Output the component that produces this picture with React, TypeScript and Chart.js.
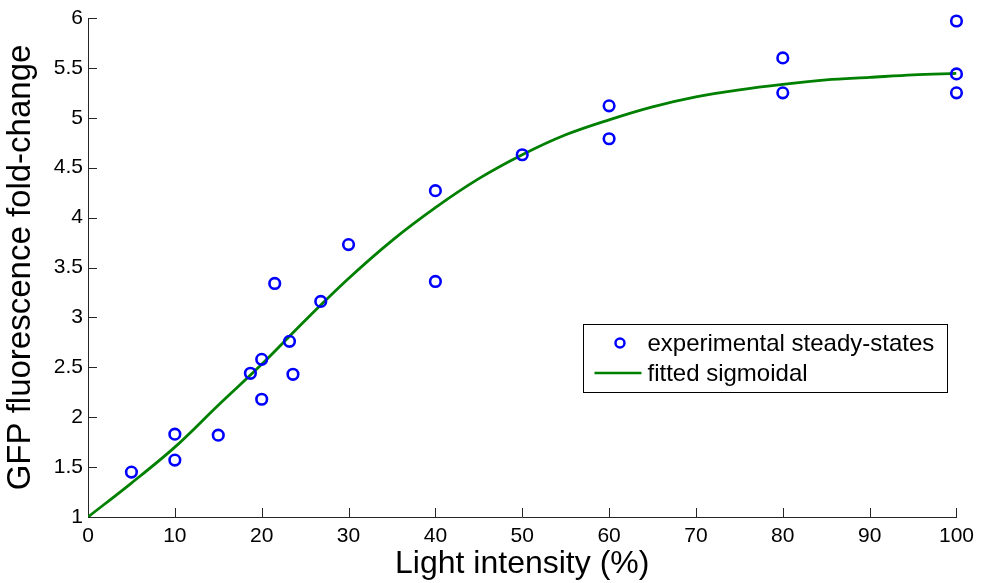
import React, { useEffect, useRef } from "react";
import { Chart, registerables } from "chart.js";

Chart.register(...registerables);

// Experimental steady-states
const expX = [5, 10, 10, 15, 18.7, 20, 20, 21.5, 23.2, 23.6, 26.8, 30, 40, 40, 50, 60, 60, 80, 80, 100, 100, 100];
const expY = [1.45, 1.83, 1.57, 1.82, 2.44, 2.58, 2.18, 3.34, 2.76, 2.43, 3.16, 3.73, 4.27, 3.36, 4.63, 5.12, 4.79, 5.6, 5.25, 5.97, 5.44, 5.25];

// Fitted sigmoidal curve
const fitX = [0, 5, 10, 15, 20, 25, 30, 35, 40, 45, 50, 55, 60, 65, 70, 75, 80, 85, 90, 95, 100];
const fitY = [1.0, 1.34, 1.7, 2.12, 2.53, 2.97, 3.39, 3.77, 4.1, 4.39, 4.63, 4.83, 4.98, 5.11, 5.21, 5.28, 5.335, 5.38, 5.405, 5.43, 5.445];

const xLabel = "Light intensity (%)";
const yLabel = "GFP fluorescence fold-change";
const seriesLabels = ["experimental steady-states", "fitted sigmoidal"];

const FONT = "'Liberation Sans', Arial, Helvetica, sans-serif";
const BLUE = "#0000ff";
const GREEN = "#008000";
const AXIS = "#262626";

const insideTicks = {
  id: "insideTicks",
  afterDatasetsDraw(chart: any) {
    const { ctx, chartArea, scales } = chart;
    const xs = scales.x;
    const ys = scales.y;
    ctx.save();
    ctx.strokeStyle = AXIS;
    ctx.lineWidth = 1;
    ctx.beginPath();
    xs.ticks.forEach((t: any) => {
      const px = Math.round(xs.getPixelForValue(t.value)) + 0.5;
      if (t.value === xs.min) return;
      ctx.moveTo(px, chartArea.bottom);
      ctx.lineTo(px, chartArea.bottom - 9);
    });
    ys.ticks.forEach((t: any) => {
      const py = Math.round(ys.getPixelForValue(t.value)) + 0.5;
      if (t.value === ys.min) return;
      ctx.moveTo(chartArea.left, py);
      ctx.lineTo(chartArea.left + 9, py);
    });
    ctx.stroke();
    ctx.restore();
  },
};

const boxLegend = {
  id: "boxLegend",
  afterDraw(chart: any) {
    const { ctx, chartArea } = chart;
    const right = chartArea.right - 9;
    const left = right - 364;
    const top = chartArea.top + 306;
    const h = 68;
    ctx.save();
    ctx.fillStyle = "#ffffff";
    ctx.fillRect(left, top, right - left, h);
    ctx.strokeStyle = "#000000";
    ctx.lineWidth = 1;
    ctx.strokeRect(Math.round(left) + 0.5, Math.round(top) + 0.5, right - left, h);
    const ds0 = chart.data.datasets[0];
    const ds1 = chart.data.datasets[1];
    const r1 = top + 19;
    ctx.beginPath();
    ctx.arc(left + 36.5, r1, 4.5, 0, Math.PI * 2);
    ctx.strokeStyle = ds0.pointBorderColor;
    ctx.lineWidth = 2.5;
    ctx.stroke();
    const r2 = top + 49;
    ctx.beginPath();
    ctx.moveTo(left + 11, r2);
    ctx.lineTo(left + 58, r2);
    ctx.strokeStyle = ds1.borderColor;
    ctx.lineWidth = 2.5;
    ctx.stroke();
    ctx.fillStyle = "#000000";
    ctx.font = `24px ${FONT}`;
    ctx.textBaseline = "middle";
    ctx.textAlign = "left";
    ctx.fillText(ds0.label, left + 64, r1 + 1);
    ctx.fillText(ds1.label, left + 64, r2 + 1);
    ctx.restore();
  },
};

export default function App() {
  const ref = useRef<HTMLCanvasElement | null>(null);
  useEffect(() => {
    if (!ref.current) return;
    const chart = new Chart(ref.current, {
      type: "scatter",
      data: {
        datasets: [
          {
            label: seriesLabels[0],
            data: expX.map((x, i) => ({ x, y: expY[i] })),
            showLine: false,
            pointStyle: "circle",
            pointRadius: 5.3,
            pointBorderWidth: 2.6,
            pointBorderColor: BLUE,
            pointBackgroundColor: "rgba(0,0,0,0)",
            borderColor: BLUE,
            clip: false as any,
            order: 0,
          } as any,
          {
            label: seriesLabels[1],
            data: fitX.map((x, i) => ({ x, y: fitY[i] })),
            showLine: true,
            borderColor: GREEN,
            borderWidth: 2.8,
            pointRadius: 0,
            cubicInterpolationMode: "monotone",
            order: 1,
          } as any,
        ],
      },
      options: {
        responsive: false,
        animation: false,
        devicePixelRatio: 1,
        layout: { padding: { left: 0, right: 23, top: 18, bottom: 0 } },
        plugins: { legend: { display: false }, tooltip: { enabled: false } },
        scales: {
          x: {
            type: "linear",
            min: 0,
            max: 100,
            ticks: { stepSize: 10, color: "#000", font: { family: FONT, size: 21 }, padding: 7, maxRotation: 0 },
            grid: { display: false, drawTicks: false },
            border: { display: true, color: AXIS, width: 1 },
            title: { display: true, text: xLabel, color: "#000", font: { family: FONT, size: 32 }, padding: { top: 0, bottom: 0 } },
            afterFit: (s: any) => { s.height = 66; },
          },
          y: {
            type: "linear",
            min: 1,
            max: 6,
            ticks: {
              stepSize: 0.5,
              color: "#000",
              font: { family: FONT, size: 21 },
              padding: 5,
              callback: (v: any) => String(Math.round(Number(v) * 10) / 10),
            },
            grid: { display: false, drawTicks: false },
            border: { display: true, color: AXIS, width: 1 },
            title: { display: true, text: yLabel, color: "#000", font: { family: FONT, size: 33 }, padding: { top: 1, bottom: 0 } },
            afterFit: (s: any) => { s.width = 88; },
          },
        },
      },
      plugins: [insideTicks, boxLegend],
    });
    return () => chart.destroy();
  }, []);
  return (
    <div style={{ position: "fixed", left: 0, top: 0, width: 981, height: 583, background: "#fff" }}>
      <canvas ref={ref} width={981} height={583} style={{ display: "block" }} />
    </div>
  );
}
